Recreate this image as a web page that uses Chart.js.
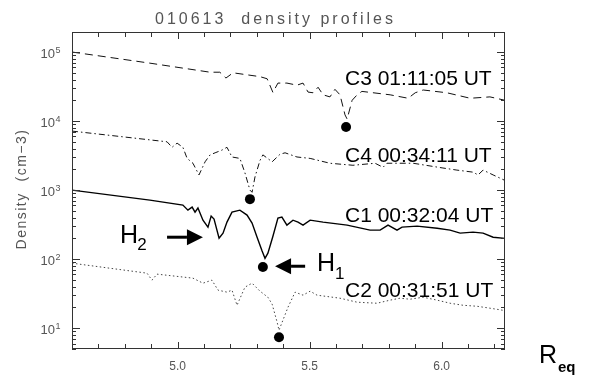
<!DOCTYPE html>
<html>
<head>
<meta charset="utf-8">
<script src="https://cdn.jsdelivr.net/npm/chart.js@4/dist/chart.umd.min.js"></script>
<style>
  html, body { margin: 0; padding: 0; background: #fff; }
  canvas { display: block; }
</style>
</head>
<body>
<canvas id="densityChart" width="592" height="376"></canvas>
<script>
// ----------------------------------------------------------------------
// Data (x = R_eq, y = density in cm^-3)
// ----------------------------------------------------------------------
const c3X = [4.60, 4.895, 5.123, 5.16, 5.183, 5.21, 5.312, 5.339, 5.361, 5.38, 5.414, 5.452, 5.475, 5.494, 5.513, 5.532, 5.551, 5.577, 5.596, 5.615, 5.634, 5.642, 5.661, 5.68, 5.698, 5.805, 5.873, 5.90, 5.93, 6.02, 6.108, 6.183, 6.24];
const c3Y = [100000, 69000, 51000, 51000, 42000, 50000, 44000, 41000, 26000, 35500, 35500, 33100, 35500, 26300, 25700, 30900, 24000, 22400, 28800, 24000, 12300, 10700, 20000, 24000, 26900, 24000, 21400, 25700, 28200, 25700, 21400, 22400, 20000];

const c4X = [4.60, 4.96, 4.979, 4.998, 5.02, 5.036, 5.058, 5.081, 5.104, 5.123, 5.142, 5.168, 5.187, 5.206, 5.236, 5.255, 5.274, 5.282, 5.293, 5.312, 5.323, 5.358, 5.388, 5.407, 5.452, 5.502, 5.577, 5.664, 5.748, 5.778, 5.793, 5.892, 6.005, 6.058, 6.119, 6.138, 6.157, 6.195, 6.24];
const c4Y = [7160, 5010, 4170, 4790, 4170, 2880, 2450, 1660, 2570, 3240, 3470, 3800, 4170, 3020, 2880, 1780, 1000, 930, 1550, 2690, 3240, 2570, 3310, 3470, 3020, 2880, 2450, 2290, 2450, 2140, 2450, 2450, 2090, 1950, 1820, 1660, 1950, 1660, 1380];

const c1X = [4.60, 4.895, 5.02, 5.039, 5.055, 5.066, 5.077, 5.096, 5.115, 5.127, 5.138, 5.157, 5.172, 5.187, 5.206, 5.236, 5.263, 5.282, 5.301, 5.32, 5.331, 5.342, 5.361, 5.38, 5.395, 5.414, 5.437, 5.456, 5.475, 5.502, 5.551, 5.642, 5.729, 5.767, 5.797, 5.831, 5.85, 5.907, 5.983, 6.032, 6.07, 6.119, 6.157, 6.195, 6.24];
const c1Y = [1000, 716, 607, 513, 568, 479, 550, 367, 291, 420, 380, 201, 238, 344, 479, 513, 435, 333, 208, 131, 103, 122, 215, 393, 407, 311, 367, 344, 311, 367, 344, 311, 263, 263, 311, 263, 291, 301, 281, 263, 238, 246, 238, 208, 200];

const c2X = [4.60, 4.884, 4.903, 4.922, 5.058, 5.096, 5.13, 5.153, 5.187, 5.206, 5.225, 5.255, 5.282, 5.312, 5.342, 5.358, 5.377, 5.384, 5.399, 5.418, 5.445, 5.475, 5.502, 5.528, 5.615, 5.68, 5.755, 5.805, 5.842, 5.88, 5.93, 5.983, 6.032, 6.081, 6.134, 6.183, 6.24];
const c2Y = [87.5, 62.7, 49.7, 60.7, 53.1, 44.9, 49.7, 35.6, 33.3, 35.6, 21.5, 39.3, 44.9, 34.4, 28.1, 22.3, 12.2, 9.35, 13.1, 20.1, 33.3, 30.1, 34.4, 30.1, 27.2, 23.8, 23.0, 25.5, 27.2, 26.3, 28.1, 25.5, 23.0, 21.5, 20.8, 19.5, 18.0];

// marked minima (filled dots): C3, C4, C1, C2
const dotX = [5.638, 5.274, 5.323, 5.384];
const dotY = [8200, 740, 77, 7.4];

// curve labels and their anchor (left edge, baseline) in data units
const curveLabels = ['C3 01:11:05 UT', 'C4 00:34:11 UT', 'C1 00:32:04 UT', 'C2 00:31:51 UT'];
const curveLabelX = [5.634, 5.634, 5.634, 5.634];
const curveLabelY = [33300, 2550, 344, 28.1];

// axis ticks
const xTickValues = [5.0, 5.5, 6.0];
const xTickLabels = ['5.0', '5.5', '6.0'];
const yTickExponents = [1, 2, 3, 4, 5];

const X_MIN = 4.6, X_MAX = 6.24;
const Y_MIN = 5, Y_MAX = 195000;

const FONT = "'Liberation Sans', Arial, Helvetica, sans-serif";

function toPoints(xs, ys) {
  return xs.map((x, i) => ({ x: x, y: ys[i] }));
}

function lineSet(label, xs, ys, dash, width, color) {
  return {
    label: label,
    data: toPoints(xs, ys),
    showLine: true,
    borderColor: color,
    borderWidth: width,
    borderDash: dash,
    pointRadius: 0,
    pointHoverRadius: 0,
    tension: 0,
    fill: false
  };
}

// ----------------------------------------------------------------------
// Drawing helpers for the decorations (frame, ticks, text, arrows)
// ----------------------------------------------------------------------
function drawArrow(ctx, x1, x2, y, headLen, headHalf) {
  const dir = x2 > x1 ? 1 : -1;
  ctx.beginPath();
  ctx.lineWidth = 3;
  ctx.moveTo(x1, y);
  ctx.lineTo(x2 - dir * headLen, y);
  ctx.stroke();
  ctx.beginPath();
  ctx.moveTo(x2, y);
  ctx.lineTo(x2 - dir * headLen, y - headHalf);
  ctx.lineTo(x2 - dir * headLen, y + headHalf);
  ctx.closePath();
  ctx.fill();
}

const overlayPlugin = {
  id: 'overlay',
  afterDraw(chart) {
    const ctx = chart.ctx;
    const xs = chart.scales.x;
    const ys = chart.scales.y;
    const a = chart.chartArea;
    const px = v => xs.getPixelForValue(v);
    const py = v => ys.getPixelForValue(v);

    ctx.save();

    // frame
    ctx.strokeStyle = '#333';
    ctx.lineWidth = 1;
    ctx.strokeRect(a.left + 0.5, a.top + 0.5, a.right - a.left - 1, a.bottom - a.top - 1);

    // x ticks (bottom + top, inward)
    ctx.beginPath();
    for (let i = 47; i <= 62; i++) {
      const x = Math.round(px(i / 10)) + 0.5;
      const len = (i % 5 === 0) ? 7 : 5;
      ctx.moveTo(x, a.bottom);
      ctx.lineTo(x, a.bottom - len);
      ctx.moveTo(x, a.top);
      ctx.lineTo(x, a.top + len);
    }
    // y ticks (left + right, inward)
    for (let e = 0; e <= 5; e++) {
      for (let m = 1; m <= 9; m++) {
        const v = m * Math.pow(10, e);
        if (v < Y_MIN || v > Y_MAX) continue;
        const y = Math.round(py(v)) + 0.5;
        const len = m === 1 ? 8 : 4;
        ctx.moveTo(a.left, y);
        ctx.lineTo(a.left + len, y);
        ctx.moveTo(a.right, y);
        ctx.lineTo(a.right - len, y);
      }
    }
    ctx.stroke();

    // x tick labels
    ctx.fillStyle = '#555';
    ctx.font = '12px ' + FONT;
    ctx.textAlign = 'center';
    ctx.textBaseline = 'alphabetic';
    xTickValues.forEach((v, i) => {
      ctx.fillText(xTickLabels[i], px(v), a.bottom + 21);
    });

    // y tick labels: 10 with superscript exponent
    yTickExponents.forEach(e => {
      const y = py(Math.pow(10, e));
      ctx.font = '13px ' + FONT;
      ctx.textAlign = 'right';
      ctx.fillText('10', 55, y + 6);
      ctx.font = '9px ' + FONT;
      ctx.textAlign = 'left';
      ctx.fillText(String(e), 55.5, y + 1);
    });

    // title
    ctx.font = '16px ' + FONT;
    ctx.textAlign = 'left';
    ctx.letterSpacing = '3px';
    ctx.fillText('010613  density profiles', 155, 24);

    // y axis title
    ctx.save();
    ctx.translate(26, 189);
    ctx.rotate(-Math.PI / 2);
    ctx.font = '14px ' + FONT;
    ctx.letterSpacing = '1.5px';
    ctx.textAlign = 'center';
    ctx.fillText('Density  (cm\u22123)', 0, 0);
    ctx.restore();
    ctx.letterSpacing = '0px';

    // curve labels
    ctx.fillStyle = '#000';
    ctx.font = '21px ' + FONT;
    ctx.textAlign = 'left';
    curveLabels.forEach((t, i) => {
      ctx.fillText(t, px(curveLabelX[i]), py(curveLabelY[i]));
    });

    // H2 arrow + text
    ctx.strokeStyle = '#000';
    const h2y = py(208);
    drawArrow(ctx, px(4.96), px(5.096), h2y, 16, 8);
    ctx.font = '25px ' + FONT;
    ctx.fillText('H', px(4.782), h2y + 6);
    ctx.font = '17px ' + FONT;
    ctx.fillText('2', px(4.847), h2y + 13);

    // H1 arrow + text
    const h1y = py(79);
    drawArrow(ctx, px(5.483), px(5.369), h1y, 16, 8);
    ctx.font = '25px ' + FONT;
    ctx.fillText('H', px(5.528), h1y + 5);
    ctx.font = '17px ' + FONT;
    ctx.fillText('1', px(5.596), h1y + 13);

    // R_eq axis label
    ctx.font = '25px ' + FONT;
    ctx.fillText('R', 539, 363);
    ctx.font = 'bold 15px ' + FONT;
    ctx.fillText('eq', 558, 372);

    ctx.restore();
  }
};

// ----------------------------------------------------------------------
// Chart
// ----------------------------------------------------------------------
const ctx = document.getElementById('densityChart').getContext('2d');

new Chart(ctx, {
  type: 'scatter',
  data: {
    datasets: [
      lineSet('C3', c3X, c3Y, [8, 5], 1, '#111'),
      lineSet('C4', c4X, c4Y, [6, 3, 1.5, 3], 1, '#111'),
      lineSet('C1', c1X, c1Y, [], 1.4, '#000'),
      lineSet('C2', c2X, c2Y, [1.5, 2.5], 1, '#444'),
      {
        label: 'minima',
        data: toPoints(dotX, dotY),
        showLine: false,
        pointRadius: 5,
        pointBackgroundColor: '#000',
        pointBorderColor: '#000',
        pointBorderWidth: 0
      }
    ]
  },
  options: {
    responsive: false,
    animation: false,
    devicePixelRatio: 1,
    layout: { padding: { left: 72, right: 87, top: 32, bottom: 27 } },
    scales: {
      x: { type: 'linear', min: X_MIN, max: X_MAX, display: false },
      y: { type: 'logarithmic', min: Y_MIN, max: Y_MAX, display: false }
    },
    plugins: {
      legend: { display: false },
      tooltip: { enabled: false }
    }
  },
  plugins: [overlayPlugin]
});
</script>
</body>
</html>
